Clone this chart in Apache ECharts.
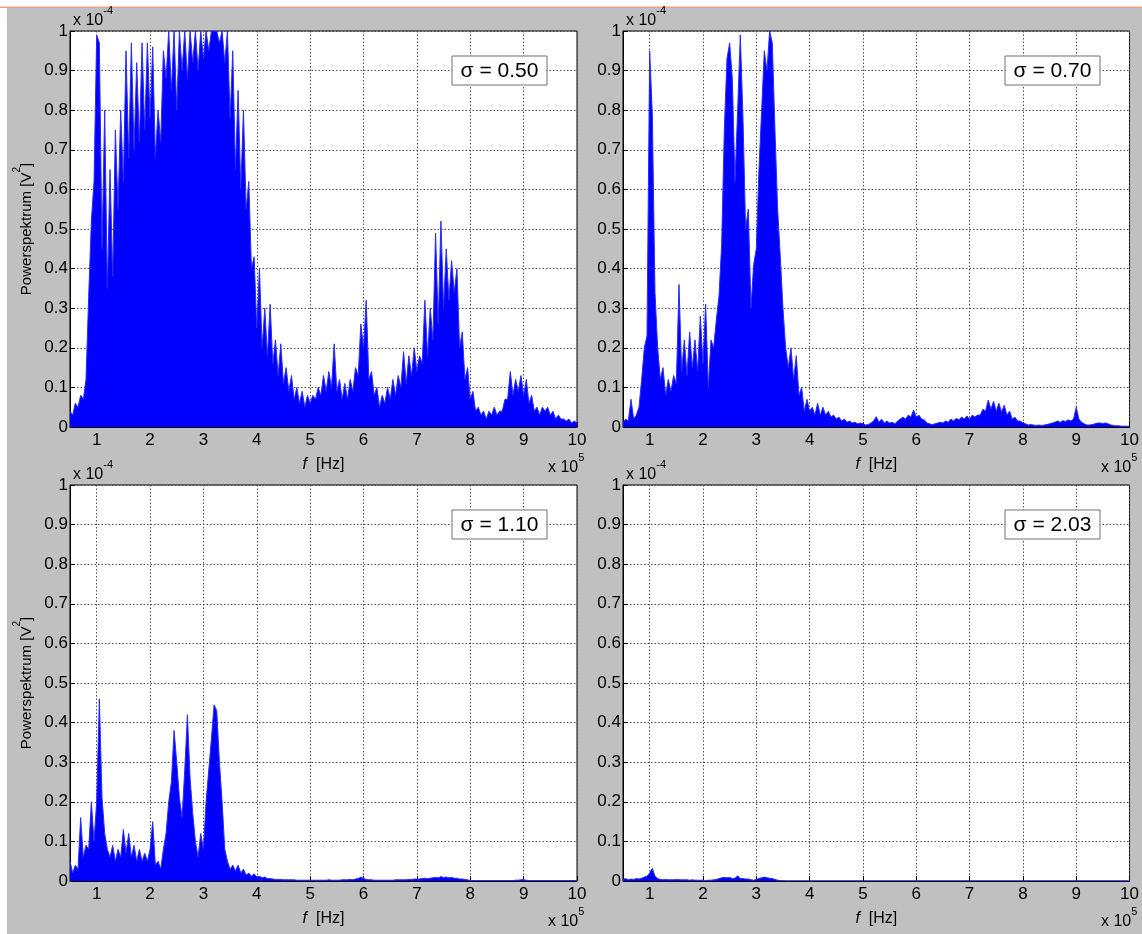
<!DOCTYPE html>
<html><head><meta charset="utf-8">
<script src="https://cdn.jsdelivr.net/npm/echarts@6/dist/echarts.min.js"></script>
<style>html,body{margin:0;padding:0;background:#fff}#c{width:1142px;height:934px}</style>
</head><body><div id="c"></div><script>
// frequency grid in units of 1e5 Hz
const freq = [
 0.5,0.55,0.6,0.65,0.7,0.75,0.8,0.85,0.9,0.95,
 1,1.05,1.1,1.15,1.2,1.25,1.3,1.35,1.4,1.45,1.5,1.55,1.6,1.65,1.7,1.75,1.8,1.85,1.9,1.95,
 2,2.05,2.1,2.15,2.2,2.25,2.3,2.35,2.4,2.45,2.5,2.55,2.6,2.65,2.7,2.75,2.8,2.85,2.9,2.95,
 3,3.05,3.1,3.15,3.2,3.25,3.3,3.35,3.4,3.45,3.5,3.55,3.6,3.65,3.7,3.75,3.8,3.85,3.9,3.95,
 4,4.05,4.1,4.15,4.2,4.25,4.3,4.35,4.4,4.45,4.5,4.55,4.6,4.65,4.7,4.75,4.8,4.85,4.9,4.95,
 5,5.05,5.1,5.15,5.2,5.25,5.3,5.35,5.4,5.45,5.5,5.55,5.6,5.65,5.7,5.75,5.8,5.85,5.9,5.95,
 6,6.05,6.1,6.15,6.2,6.25,6.3,6.35,6.4,6.45,6.5,6.55,6.6,6.65,6.7,6.75,6.8,6.85,6.9,6.95,
 7,7.05,7.1,7.15,7.2,7.25,7.3,7.35,7.4,7.45,7.5,7.55,7.6,7.65,7.7,7.75,7.8,7.85,7.9,7.95,
 8,8.05,8.1,8.15,8.2,8.25,8.3,8.35,8.4,8.45,8.5,8.55,8.6,8.65,8.7,8.75,8.8,8.85,8.9,8.95,
 9,9.05,9.1,9.15,9.2,9.25,9.3,9.35,9.4,9.45,9.5,9.55,9.6,9.65,9.7,9.75,9.8,9.85,9.9,9.95,
 10
];
// power spectrum values in units of 1e-4 V^2
const sigma050 = [
 0.04,0.03,0.06,0.05,0.08,0.07,0.12,0.33,0.52,0.62,
 0.99,0.97,0.45,0.80,0.35,0.65,0.38,0.75,0.55,0.80,0.62,0.95,0.68,0.97,0.70,0.92,0.72,0.97,0.75,0.97,
 0.78,0.96,0.68,0.80,0.72,0.95,0.88,1.0,0.85,1.0,0.80,1.0,0.90,1.0,0.88,1.0,0.92,1.0,0.90,1.0,
 0.93,1.0,0.95,1.0,1.0,1.0,0.97,1.0,0.92,1.0,0.78,0.95,0.65,0.85,0.60,0.80,0.55,0.62,0.40,0.43,
 0.25,0.40,0.20,0.30,0.18,0.31,0.16,0.22,0.13,0.21,0.11,0.15,0.09,0.13,0.07,0.10,0.06,0.09,0.05,0.08,
 0.06,0.08,0.07,0.10,0.08,0.13,0.09,0.14,0.10,0.21,0.09,0.12,0.07,0.11,0.07,0.12,0.09,0.15,0.13,0.26,
 0.20,0.32,0.12,0.14,0.08,0.10,0.05,0.08,0.06,0.10,0.07,0.12,0.08,0.13,0.10,0.19,0.11,0.18,0.13,0.20,
 0.14,0.18,0.16,0.32,0.18,0.30,0.22,0.49,0.26,0.52,0.30,0.45,0.32,0.42,0.34,0.40,0.20,0.24,0.12,0.15,
 0.07,0.09,0.04,0.05,0.03,0.04,0.02,0.04,0.03,0.05,0.03,0.04,0.04,0.07,0.07,0.14,0.08,0.12,0.09,0.13,
 0.08,0.12,0.06,0.08,0.04,0.05,0.03,0.05,0.04,0.05,0.03,0.04,0.02,0.03,0.02,0.02,0.015,0.02,0.01,0.015,
 0.01
];
const sigma070 = [
 0.01,0.02,0.015,0.07,0.02,0.03,0.05,0.12,0.20,0.23,
 0.95,0.79,0.34,0.20,0.12,0.15,0.08,0.12,0.09,0.13,0.11,0.36,0.14,0.22,0.13,0.24,0.15,0.22,0.14,0.28,
 0.16,0.31,0.10,0.22,0.20,0.27,0.33,0.46,0.75,0.93,0.97,0.88,0.62,0.80,0.99,0.78,0.50,0.55,0.30,0.41,
 0.45,0.65,0.80,0.95,0.90,1.0,0.97,0.75,0.55,0.43,0.30,0.20,0.15,0.20,0.12,0.18,0.08,0.10,0.04,0.07,
 0.04,0.05,0.03,0.06,0.03,0.05,0.03,0.04,0.025,0.03,0.02,0.025,0.015,0.02,0.012,0.015,0.01,0.012,0.008,0.01,
 0.008,0.005,0.006,0.01,0.015,0.026,0.012,0.02,0.01,0.015,0.01,0.012,0.008,0.015,0.02,0.025,0.02,0.03,0.025,0.043,
 0.025,0.03,0.02,0.018,0.01,0.008,0.006,0.008,0.01,0.012,0.01,0.015,0.012,0.02,0.015,0.022,0.018,0.025,0.02,0.028,
 0.02,0.03,0.025,0.03,0.03,0.045,0.04,0.068,0.045,0.065,0.04,0.06,0.038,0.055,0.03,0.04,0.02,0.025,0.015,0.015,
 0.01,0.008,0.005,0.006,0.005,0.004,0.005,0.004,0.005,0.006,0.008,0.01,0.012,0.015,0.012,0.016,0.014,0.018,0.015,0.02,
 0.05,0.02,0.012,0.008,0.005,0.005,0.006,0.008,0.01,0.01,0.009,0.01,0.008,0.005,0.004,0.003,0.003,0.002,0.002,0.002,
 0.002
];
const sigma110 = [
 0.05,0.02,0.04,0.03,0.16,0.06,0.09,0.08,0.20,0.10,
 0.20,0.46,0.21,0.12,0.08,0.06,0.09,0.05,0.08,0.06,0.13,0.07,0.12,0.06,0.09,0.05,0.08,0.05,0.07,0.05,
 0.08,0.15,0.04,0.05,0.03,0.08,0.12,0.20,0.25,0.38,0.30,0.21,0.16,0.28,0.42,0.26,0.17,0.10,0.06,0.12,
 0.08,0.20,0.28,0.36,0.445,0.43,0.30,0.20,0.08,0.05,0.03,0.04,0.025,0.04,0.02,0.03,0.015,0.02,0.012,0.018,
 0.01,0.012,0.008,0.01,0.006,0.006,0.005,0.004,0.004,0.004,0.003,0.003,0.003,0.003,0.003,0.002,0.002,0.002,0.002,0.002,
 0.002,0.002,0.002,0.002,0.002,0.002,0.002,0.003,0.002,0.002,0.002,0.002,0.003,0.003,0.003,0.004,0.003,0.005,0.006,0.01,
 0.006,0.004,0.003,0.003,0.002,0.002,0.002,0.002,0.002,0.002,0.002,0.002,0.003,0.003,0.003,0.003,0.003,0.004,0.004,0.005,
 0.005,0.005,0.006,0.007,0.006,0.007,0.008,0.009,0.008,0.011,0.009,0.010,0.008,0.009,0.007,0.007,0.005,0.005,0.004,0.003,
 0.001,0.001,0.001,0.001,0.001,0.001,0.001,0.001,0.001,0.001,0.001,0.001,0.001,0.001,0.001,0.001,0.001,0.002,0.002,0.003,
 0.003,0.002,0.001,0.001,0.001,0.001,0.001,0.001,0.001,0.001,0.001,0.001,0.001,0.001,0.001,0.001,0.001,0.001,0.001,0.001,
 0.001
];
const sigma203 = [
 0.004,0.006,0.003,0.005,0.004,0.006,0.005,0.007,0.010,0.012,
 0.020,0.032,0.012,0.006,0.004,0.003,0.004,0.003,0.003,0.003,0.004,0.003,0.003,0.003,0.003,0.002,0.003,0.002,0.002,0.002,
 0.002,0.001,0.002,0.002,0.003,0.004,0.006,0.008,0.009,0.008,0.009,0.006,0.007,0.013,0.006,0.006,0.005,0.005,0.003,0.002,
 0.004,0.006,0.008,0.010,0.008,0.007,0.006,0.004,0.002,0.001,0.0005,0,0,0,0,0,0,0,0,0,
 0,0,0,0,0,0,0,0,0,0,0,0,0,0,0,0,0,0,0,0,
 0,0,0,0,0,0,0,0,0,0,0,0,0,0,0,0,0,0,0,0,
 0,0,0,0,0,0,0,0,0,0,0,0,0,0,0,0,0,0,0,0,
 0,0,0,0,0,0,0,0,0,0,0,0,0,0,0,0,0,0,0,0,
 0,0,0,0,0,0,0,0,0,0,0,0,0,0,0,0,0,0,0,0,
 0,0,0,0,0,0,0,0,0,0,0,0,0,0,0,0,0,0,0,0,
 0
];
const panelSeries = [sigma050, sigma070, sigma110, sigma203];
const sigmaLabels = ['σ = 0.50', 'σ = 0.70', 'σ = 1.10', 'σ = 2.03'];
const xTicks = [1, 2, 3, 4, 5, 6, 7, 8, 9, 10];
const xMin = 0.5, xMax = 10, yMin = 0, yMax = 1, yStep = 0.1;
const yName = '{b|Powerspektrum [V}{sup|2}{b|]}';
const xName = '{it|f}  [Hz]';

const FONT = '"Liberation Sans", Arial, sans-serif';
const layout = [
  {left: 70, top: 31, width: 507, height: 396, ylabel: true},
  {left: 623, top: 31, width: 507, height: 396, ylabel: false},
  {left: 70, top: 485, width: 507, height: 396, ylabel: true},
  {left: 623, top: 485, width: 507, height: 396, ylabel: false}
];
const expRich = {
  b: {fontSize: 16, fontFamily: FONT, color: '#000', lineHeight: 24, verticalAlign: 'bottom'},
  s: {fontSize: 11, fontFamily: FONT, color: '#000', lineHeight: 12, verticalAlign: 'top'}
};

const grid = [], xAxis = [], yAxis = [], series = [], graphic = [];
// page frame: white margins and thin orange line at top
graphic.push({type:'rect', shape:{x:0,y:0,width:1142,height:7}, style:{fill:'#fff'}, silent:true});
graphic.push({type:'rect', shape:{x:0,y:0,width:7,height:934}, style:{fill:'#fff'}, silent:true});
graphic.push({type:'rect', shape:{x:0,y:6.5,width:1142,height:1.5}, style:{fill:'#eaa47f'}, silent:true});

layout.forEach((g, i) => {
  grid.push({left: g.left, top: g.top, width: g.width, height: g.height, show: true,
    backgroundColor: '#fff', borderColor: '#000', borderWidth: 1, containLabel: false});
  xAxis.push({type: 'value', gridIndex: i, min: xMin, max: xMax,
    name: xName, nameLocation: 'middle', nameGap: 30,
    nameTextStyle: {fontFamily: FONT, fontSize: 16, color: '#000', rich: {it: {fontStyle: 'italic', fontFamily: FONT, fontSize: 16}}},
    axisLine: {show: true, onZero: false, lineStyle: {color: '#000', width: 1}},
    axisTick: {show: true, inside: true, length: 5, customValues: xTicks, lineStyle: {color: '#000'}},
    axisLabel: {customValues: xTicks, fontFamily: FONT, fontSize: 17, color: '#000', margin: 5,
      formatter: v => String(Math.round(v))},
    splitLine: {show: true, lineStyle: {color: '#505050', type: [1.5, 2], width: 1}}
  });
  yAxis.push({type: 'value', gridIndex: i, min: yMin, max: yMax, interval: yStep,
    name: g.ylabel ? yName : '', nameLocation: 'middle', nameGap: 36, nameRotate: 90,
    nameTextStyle: {fontFamily: FONT, fontSize: 15, color: '#000',
      rich: {b: {fontSize: 15, fontFamily: FONT, color: '#000', lineHeight: 22, verticalAlign: 'bottom'},
             sup: {fontSize: 10, fontFamily: FONT, color: '#000', verticalAlign: 'top', lineHeight: 12}}},
    axisLine: {show: true, onZero: false, lineStyle: {color: '#000', width: 1}},
    axisTick: {show: true, inside: true, length: 5, lineStyle: {color: '#000'}},
    axisLabel: {fontFamily: FONT, fontSize: 17, color: '#000', margin: 2,
      formatter: v => (Math.abs(v) < 1e-9 ? '0' : (Math.abs(v - 1) < 1e-9 ? '1' : v.toFixed(1)))},
    splitLine: {show: true, lineStyle: {color: '#505050', type: [1.5, 2], width: 1}}
  });
  const vals = panelSeries[i];
  series.push({type: 'line', xAxisIndex: i, yAxisIndex: i, showSymbol: false, symbol: 'none',
    sampling: null, animation: false, clip: true,
    lineStyle: {color: '#2a2aff', width: 1},
    areaStyle: {color: '#0000ff', opacity: 1, origin: 'start'},
    data: freq.map((f, k) => [f, vals[k]])
  });
  // exponent labels
  graphic.push({type: 'text', x: g.left + 3, y: g.top - 14,
    style: {text: '{b|x 10}{s|-4}', fill: '#000', verticalAlign: 'middle', align: 'left', rich: expRich}});
  graphic.push({type: 'text', x: g.left + g.width - 29, y: g.top + g.height + 37,
    style: {text: '{b|x 10}{s|5}', fill: '#000', verticalAlign: 'middle', align: 'left', rich: expRich}});
  // sigma annotation box
  const bx = g.left + g.width - 125, by = g.top + 25;
  graphic.push({type: 'rect', shape: {x: bx, y: by, width: 95, height: 29},
    style: {fill: '#fff', stroke: '#707070', lineWidth: 1}, z: 100});
  graphic.push({type: 'text', x: bx + 47.5, y: by + 15, z: 101,
    style: {text: sigmaLabels[i], font: '21px ' + FONT, fill: '#000', align: 'center', verticalAlign: 'middle'}});
});

const chart = echarts.init(document.getElementById('c'), null, {renderer: 'canvas'});
chart.setOption({
  backgroundColor: '#c0c0c0',
  animation: false,
  textStyle: {fontFamily: FONT},
  grid, xAxis, yAxis, series, graphic
});
</script></body></html>
